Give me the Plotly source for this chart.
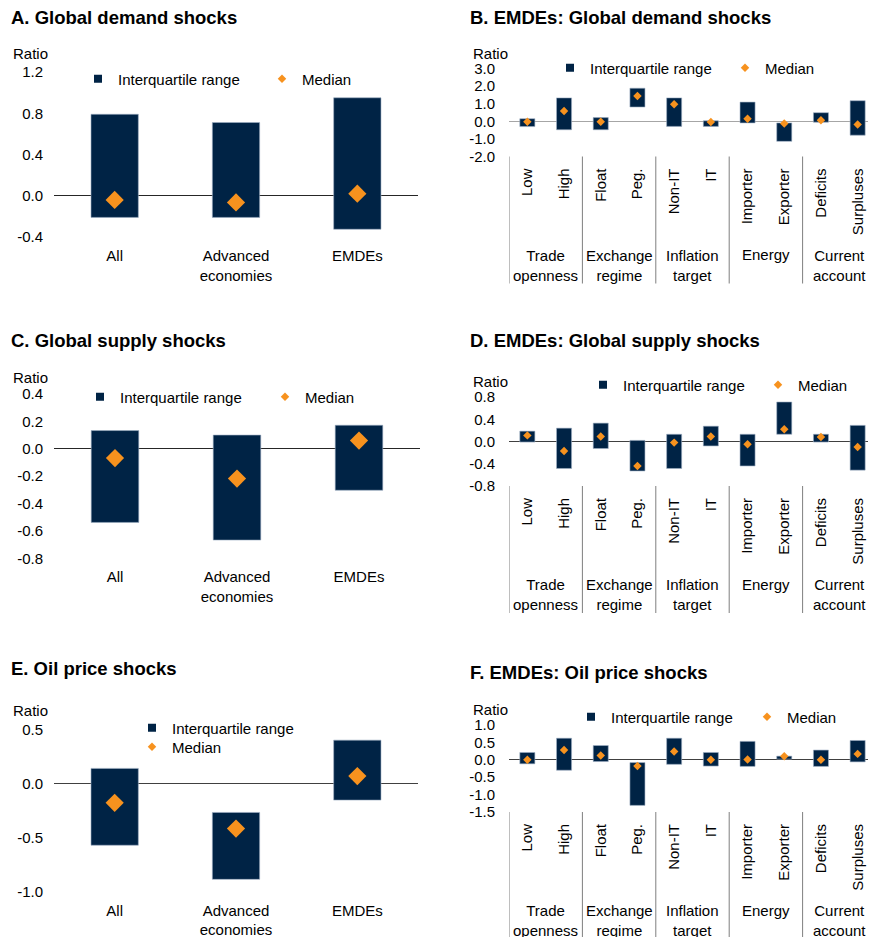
import plotly.graph_objects as go

#Tamano de la ventana y margen que deja el navegador (body margin)
W, H = 876, 937
OFF = 8
FW, FH = W - OFF, H - OFF

#Colores
navy = "#002345"
orange = "#F7921E"
fuente = "Arial, Liberation Sans, sans-serif"

#Categorias
cat_izq = ["All", "Advanced<br>economies", "EMDEs"]
cat_der = ["Low", "High", "Float", "Peg.", "Non-IT", "IT", "Importer", "Exporter", "Deficits", "Surpluses"]
grupos_der = ["Trade<br>openness", "Exchange<br>regime", "Inflation<br>target", "Energy", "Current<br>account"]

#A. Global demand shocks
a_low = [-0.21, -0.21, -0.325]
a_high = [0.79, 0.71, 0.95]
a_med = [-0.04, -0.065, 0.02]

#B. EMDEs: Global demand shocks
b_low = [-0.30, -0.48, -0.48, 0.81, -0.29, -0.29, -0.09, -1.14, -0.05, -0.79]
b_high = [0.15, 1.33, 0.21, 1.88, 1.33, 0.03, 1.09, -0.09, 0.49, 1.17]
b_med = [-0.03, 0.58, -0.03, 1.44, 0.97, -0.04, 0.15, -0.13, 0.06, -0.18]

#C. Global supply shocks
c_low = [-0.538, -0.667, -0.303]
c_high = [0.133, 0.10, 0.172]
c_med = [-0.068, -0.218, 0.06]

#D. EMDEs: Global supply shocks
d_low = [-0.01, -0.485, -0.126, -0.53, -0.485, -0.08, -0.44, 0.13, -0.01, -0.515]
d_high = [0.186, 0.24, 0.33, 0.02, 0.13, 0.275, 0.13, 0.71, 0.13, 0.29]
d_med = [0.11, -0.17, 0.09, -0.44, -0.02, 0.09, -0.05, 0.22, 0.08, -0.10]

#E. Oil price shocks
e_low = [-0.571, -0.886, -0.154]
e_high = [0.139, -0.268, 0.40]
e_med = [-0.179, -0.417, 0.068]

#F. EMDEs: Oil price shocks
f_low = [-0.115, -0.30, -0.05, -1.31, -0.13, -0.18, -0.19, 0.02, -0.19, -0.06]
f_high = [0.21, 0.62, 0.41, -0.08, 0.62, 0.21, 0.53, 0.105, 0.28, 0.555]
f_med = [0.0, 0.28, 0.125, -0.18, 0.24, 0.0, 0.01, 0.105, 0.0, 0.17]

#Marcas del eje Y de cada panel
a_ticks = [-0.4, 0.0, 0.4, 0.8, 1.2]
b_ticks = [-2.0, -1.0, 0.0, 1.0, 2.0, 3.0]
c_ticks = [-0.8, -0.6, -0.4, -0.2, 0.0, 0.2, 0.4]
d_ticks = [-0.8, -0.4, 0.0, 0.4, 0.8]
e_ticks = [-1.0, -0.5, 0.0, 0.5]
f_ticks = [-1.5, -1.0, -0.5, 0.0, 0.5, 1.0]

titulos = ["A. Global demand shocks", "B. EMDEs: Global demand shocks",
           "C. Global supply shocks", "D. EMDEs: Global supply shocks",
           "E. Oil price shocks", "F. EMDEs: Oil price shocks"]

#Convierte pixeles de la pagina a fracciones de la figura
def px_x(x):
    return (x - OFF) / FW

def px_y(y):
    return 1 - (y - OFF) / FH

#Configuracion de cada panel (posiciones en pixeles de la pagina)
#leg1/leg2 = (inicio del texto, centro vertical) de cada item de la leyenda
paneles = [
    dict(cats=cat_izq, low=a_low, high=a_high, med=a_med, ticks=a_ticks, x0=54, x1=418, top=72, bot=237,
         titulo_y=17, ratio_y=53, leg1=(118, 79), leg2=(302, 79), zero="#262626"),
    dict(cats=cat_der, low=b_low, high=b_high, med=b_med, ticks=b_ticks, x0=509, x1=876, top=68.5, bot=156.5,
         titulo_y=17, ratio_y=53, leg1=(590, 68), leg2=(765, 68), zero="#a6a6a6"),
    dict(cats=cat_izq, low=c_low, high=c_high, med=c_med, ticks=c_ticks, x0=54, x1=420, top=394, bot=558.3,
         titulo_y=340, ratio_y=377, leg1=(120, 397), leg2=(305, 397), zero="#262626"),
    dict(cats=cat_der, low=d_low, high=d_high, med=d_med, ticks=d_ticks, x0=509, x1=876, top=397, bot=486,
         titulo_y=340, ratio_y=381, leg1=(623, 385), leg2=(798, 385), zero="#404040"),
    dict(cats=cat_izq, low=e_low, high=e_high, med=e_med, ticks=e_ticks, x0=54, x1=418, top=729.3, bot=891.7,
         titulo_y=668, ratio_y=710, leg1=(172, 728), leg2=(172, 747), zero="#404040"),
    dict(cats=cat_der, low=f_low, high=f_high, med=f_med, ticks=f_ticks, x0=509, x1=876, top=725, bot=812,
         titulo_y=672, ratio_y=709, leg1=(611, 717), leg2=(787, 717), zero="#404040"),
]

fig = go.Figure()
anotaciones = []
formas = []

for i, p in enumerate(paneles):
    n = i + 1
    sfx = "" if n == 1 else str(n)
    xa, ya = "x" + sfx, "y" + sfx
    derecha = len(p["cats"]) > 3
    #Cada item de leyenda va en su propia leyenda para ubicarlo como en el original
    leg_a = "legend" if n == 1 else "legend" + str(2 * n - 1)
    leg_b = "legend" + str(2 * n)

    #Rango intercuartil como barras flotantes
    fig.add_trace(go.Bar(x=p["cats"], y=[h - l for h, l in zip(p["high"], p["low"])], base=p["low"],
                         width=0.41 if derecha else 0.39, marker=dict(color=navy, line=dict(color="#9fb0c4", width=0.6)),
                         xaxis=xa, yaxis=ya, showlegend=False))
    #Mediana
    fig.add_trace(go.Scatter(x=p["cats"], y=p["med"], mode="markers",
                             marker=dict(symbol="diamond", size=6.5 if derecha else 14, color=orange),
                             xaxis=xa, yaxis=ya, showlegend=False))
    #Entradas de leyenda
    fig.add_trace(go.Scatter(x=[None], y=[None], mode="markers", name="Interquartile range",
                             marker=dict(symbol="square", size=8, color=navy), xaxis=xa, yaxis=ya, legend=leg_a))
    fig.add_trace(go.Scatter(x=[None], y=[None], mode="markers", name="Median",
                             marker=dict(symbol="diamond", size=6.5, color=orange), xaxis=xa, yaxis=ya, legend=leg_b))

    fig.update_layout({
        "xaxis" + sfx: dict(domain=[px_x(p["x0"]), px_x(p["x1"])], anchor=ya, type="category",
                            range=[-0.5, len(p["cats"]) - 0.5], showgrid=False, showline=False, zeroline=False,
                            ticks="", tickangle=-90 if derecha else 0, ticklabelstandoff=8,
                            tickfont=dict(size=15, color="#000000"), automargin=False, fixedrange=True),
        "yaxis" + sfx: dict(domain=[px_y(p["bot"]), px_y(p["top"])], anchor=xa,
                            range=[p["ticks"][0], p["ticks"][-1]], tickvals=p["ticks"],
                            ticktext=["%.1f" % v for v in p["ticks"]], showgrid=False, showline=False,
                            zeroline=True, zerolinecolor=p["zero"], zerolinewidth=1, ticks="",
                            ticklabelstandoff=13 if derecha else 10,
                            tickfont=dict(size=15, color="#000000"), automargin=False, fixedrange=True),
    })
    for lg, (lx, ly) in [(leg_a, p["leg1"]), (leg_b, p["leg2"])]:
        fig.update_layout({lg: dict(x=px_x(lx - 40), y=px_y(ly), xanchor="left", yanchor="middle",
                                    orientation="h", font=dict(size=15, color="#000000"),
                                    bgcolor="rgba(0,0,0,0)")})

    tx = 469 if derecha else 10
    titulo = dict(text="<b>" + titulos[i] + "</b>", x=px_x(tx), y=px_y(p["titulo_y"]), xref="paper",
                  yref="paper", xanchor="left", yanchor="middle", showarrow=False, borderpad=0,
                  font=dict(size=18.5, color="#000000"))
    #Los titulos de arriba van pegados al borde: caja mas baja para que no se corten
    if n <= 2:
        titulo["height"] = 18
    anotaciones.append(titulo)
    rx = 472 if derecha else 12
    anotaciones.append(dict(text="Ratio", x=px_x(rx), y=px_y(p["ratio_y"]), xref="paper", yref="paper",
                            xanchor="left", yanchor="middle", showarrow=False, height=14, borderpad=0,
                            font=dict(size=15, color="#000000")))

    if derecha:
        #Etiquetas de grupo y separadores
        for g, nombre in enumerate(grupos_der):
            anotaciones.append(dict(text=nombre, x=2 * g + 0.5, y=px_y(p["bot"] + 88), xref=xa, yref="paper",
                                    xanchor="center", yanchor="top", showarrow=False, align="center",
                                    font=dict(size=15, color="#000000")))
        for s in [-0.5, 1.5, 3.5, 5.5, 7.5]:
            formas.append(dict(type="line", xref=xa, yref="paper", x0=s, x1=s, y0=px_y(p["bot"]),
                               y1=px_y(p["bot"] + 127), line=dict(color="#7f7f7f", width=1)))

fig.update_layout(width=FW, height=FH, margin=dict(l=0, r=0, t=0, b=0), paper_bgcolor="white",
                  plot_bgcolor="white", font=dict(family=fuente, size=15, color="#000000"),
                  annotations=anotaciones, shapes=formas, barmode="overlay", hovermode=False)

fig.write_html("out.html")
